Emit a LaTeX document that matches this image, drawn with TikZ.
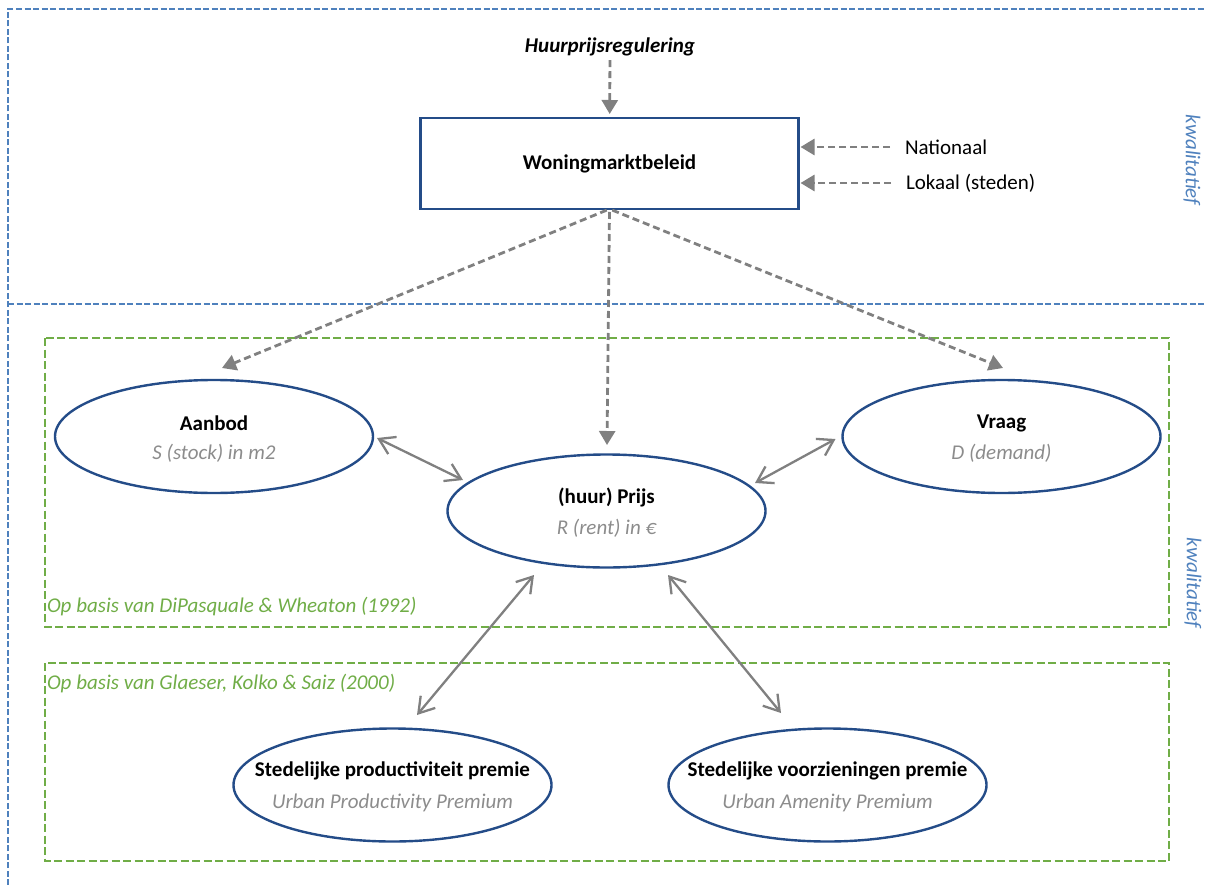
\documentclass[tikz,border=0pt]{standalone}
\usepackage{fontspec}
\setmainfont{Carlito}
\usetikzlibrary{shapes.geometric,arrows.meta}

\definecolor{frameblue}{RGB}{79,129,189}
\definecolor{navy}{RGB}{36,76,136}
\definecolor{grn}{RGB}{112,173,71}
\definecolor{arrowgray}{RGB}{128,128,128}
\definecolor{subgray}{RGB}{140,140,140}

\newcommand{\labelfont}{\fontsize{21}{25}\selectfont}

\tikzset{
  framedash/.style={draw=frameblue, line width=1.5pt, dash pattern=on 6pt off 2.5pt},
  groupdash/.style={draw=grn, line width=1.8pt, dash pattern=on 8pt off 3.5pt},
  txt/.style={font=\labelfont, inner sep=0pt, outer sep=0pt},
  policybox/.style={draw=navy, line width=2.4pt, minimum width=378pt, minimum height=91pt,
    inner sep=0pt, outer sep=0pt, font=\labelfont\bfseries},
  factor/.style={ellipse, draw=navy, line width=2.4pt, minimum width=318pt,
    minimum height=113pt, inner sep=0pt, outer sep=0pt},
  title/.style={txt, font=\labelfont\bfseries},
  sub/.style={txt, font=\labelfont\itshape, text=subgray},
  influence/.style={draw=arrowgray, line width=2.8pt, dash pattern=on 7pt off 4pt,
    -{Triangle[length=14pt,width=16pt]}},
  interact/.style={draw=arrowgray, line width=2.3pt,
    {Straight Barb[length=15pt,width=19pt]}-{Straight Barb[length=15pt,width=19pt]}},
  grouplabel/.style={txt, font=\labelfont\itshape, text=grn, anchor=west},
  axislabel/.style={txt, font=\labelfont\itshape, text=frameblue, rotate=-90},
}

\begin{document}
\begin{tikzpicture}[x=1pt, y=-1pt]
\useasboundingbox (0,0) rectangle (1206,885);

% frame of the two levels
\draw[framedash] (8,885) -- (8,9) -- (1206,9);
\draw[framedash] (8,304) -- (1206,304);
\node[axislabel] (kwal1) at (1192,160) {kwalitatief};
\node[axislabel] (kwal2) at (1193,583) {kwalitatief};

% model groups
\draw[groupdash] (45,338) rectangle (1169,627);
\draw[groupdash] (45,663) rectangle (1169,861);
\node[grouplabel] (grp1) at (47,607) {Op basis van DiPasquale \& Wheaton (1992)};
\node[grouplabel] (grp2) at (47,684) {Op basis van Glaeser, Kolko \& Saiz (2000)};

% policy level
\node[txt, font=\labelfont\bfseries\itshape] (reg) at (610,47) {Huurprijsregulering};
\node[policybox] (wm) at (609.5,163.5) {Woningmarktbeleid};
\node[txt, anchor=west] (nat) at (905,147) {Nationaal};
\node[txt, anchor=west] (lok) at (906,183) {Lokaal (steden)};

\draw[influence, shorten <=4pt, shorten >=4pt] (reg) -- (wm);
\draw[influence, shorten <=15pt, shorten >=2pt] (nat.west) -- (nat.west -| wm.east);
\draw[influence, shorten <=15pt, shorten >=2pt] (lok.west) -- (lok.west -| wm.east);

% market factors
\node[factor] (aan) at (214,436.5) {};
\node[title] (aanT) at (214,423) {Aanbod};
\node[sub] (aanS) at (214,453) {S (stock) in m2};

\node[factor] (pr) at (606.5,511) {};
\node[title] (prT) at (606.5,497) {(huur) Prijs};
\node[sub] (prS) at (606.5,528) {R (rent) in €};

\node[factor] (vr) at (1001.5,436.5) {};
\node[title] (vrT) at (1001.5,423) {Vraag};
\node[sub] (vrS) at (1001.5,453) {D (demand)};

\node[factor] (pp) at (392.5,785) {};
\node[title] (ppT) at (392.5,771) {Stedelijke productiviteit premie};
\node[sub] (ppS) at (392.5,803) {Urban Productivity Premium};

\node[factor] (vp) at (827.5,785) {};
\node[title] (vpT) at (827.5,771) {Stedelijke voorzieningen premie};
\node[sub] (vpS) at (827.5,803) {Urban Amenity Premium};

% policy influence on the market
\draw[influence, shorten <=3pt] (wm.south) -- ([xshift=8pt,yshift=12pt]aan.north);
\draw[influence, shorten <=3pt] (wm.south) -- ([xshift=0.5pt,yshift=9.5pt]pr.north);
\draw[influence, shorten <=3pt] (wm.south) -- ([xshift=1.5pt,yshift=12pt]vr.north);

% interactions
\draw[interact] ([xshift=4pt,yshift=-1.5pt]aan.east) -- ([xshift=15.5pt,yshift=31pt]pr.west);
\draw[interact] ([xshift=-10.5pt,yshift=28pt]pr.east) -- ([xshift=-7pt,yshift=-2.5pt]vr.west);
\draw[interact] ([xshift=-72.5pt,yshift=-7.5pt]pr.south) -- ([xshift=24.5pt,yshift=13.5pt]pp.north);
\draw[interact] ([xshift=61.5pt,yshift=-7.5pt]pr.south) -- ([xshift=-46.5pt,yshift=15.5pt]vp.north);
\end{tikzpicture}
\end{document}
